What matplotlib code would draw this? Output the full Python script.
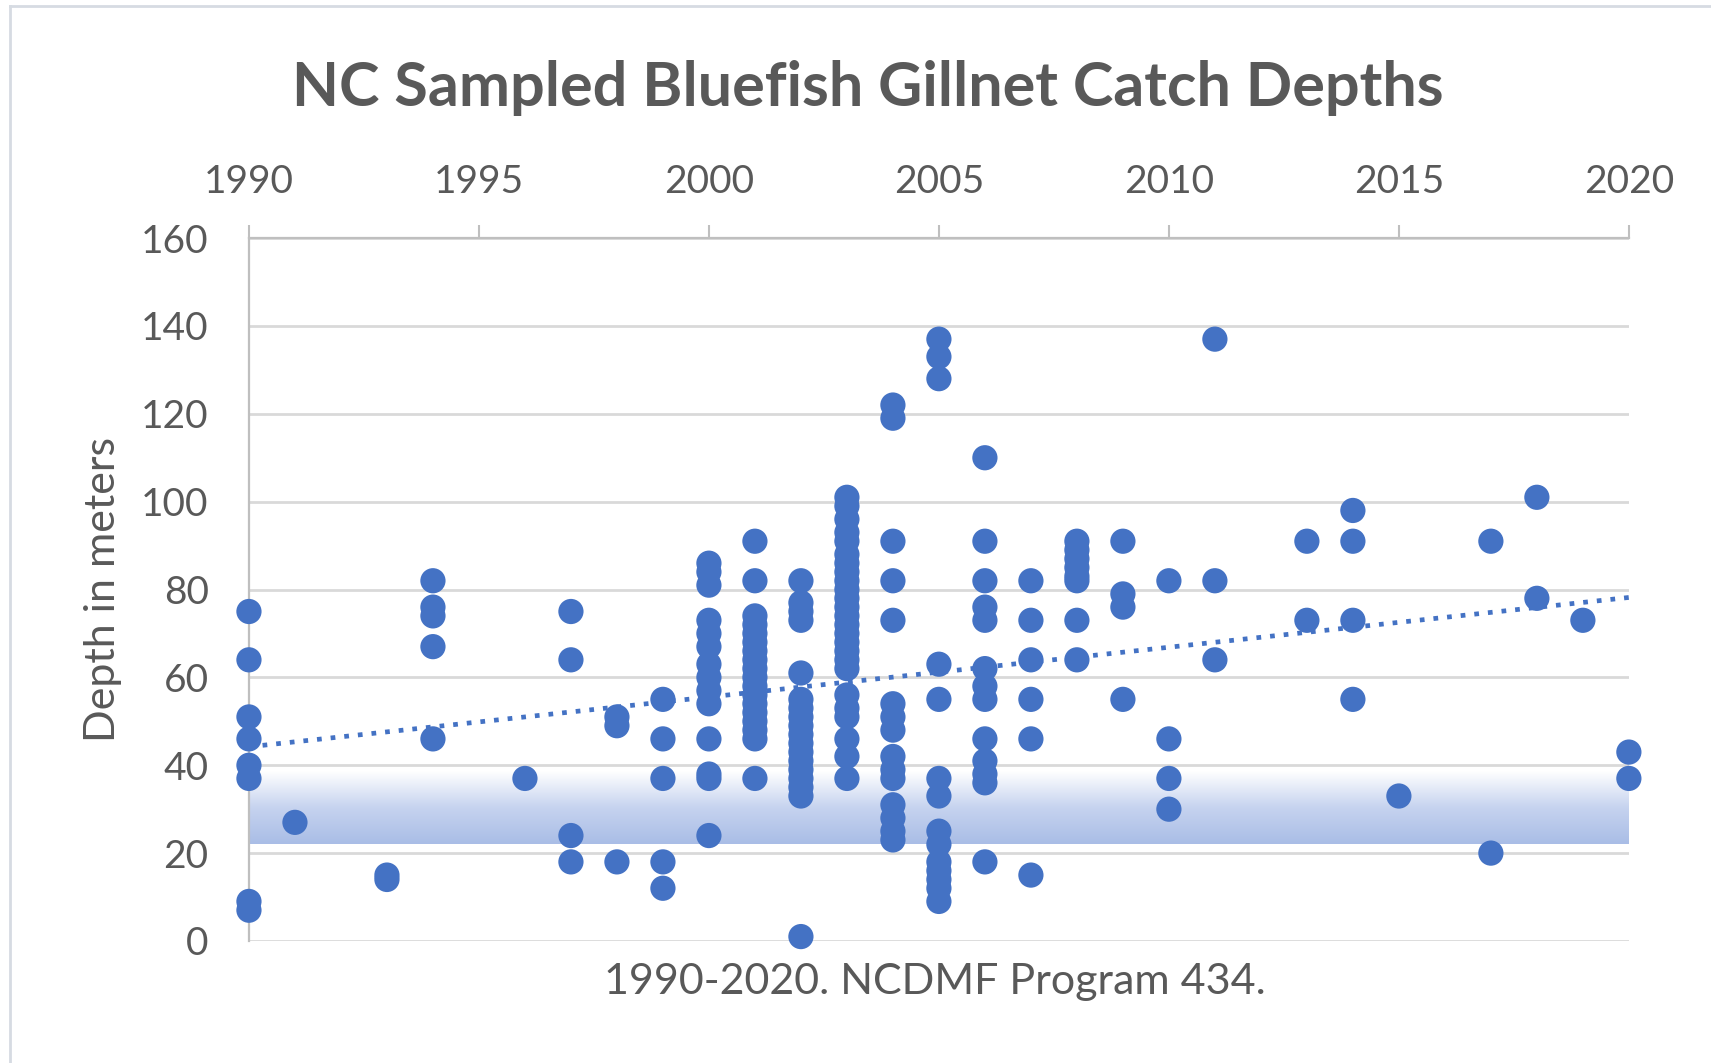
import matplotlib
matplotlib.use("Agg")
import matplotlib.pyplot as plt
import numpy as np
from matplotlib.lines import Line2D

# sampled catches: year and depth (m)
catch_year = (
    [1990] * 8 + [1991] + [1993] * 2 + [1994] * 5 + [1996] + [1997] * 4
    + [1998] * 3 + [1999] * 5 + [2000] * 14 + [2001] * 18 + [2002] * 18
    + [2003] * 25 + [2004] * 15 + [2005] * 14 + [2006] * 13 + [2007] * 6
    + [2008] * 8 + [2009] * 4 + [2010] * 4 + [2011] * 3 + [2013] * 2
    + [2014] * 4 + [2015] + [2017] * 2 + [2018] * 2 + [2019] + [2020] * 2
)
catch_depth = [
    75, 64, 51, 46, 40, 37, 9, 7,                                   # 1990
    27,                                                             # 1991
    15, 14,                                                         # 1993
    82, 76, 74, 67, 46,                                             # 1994
    37,                                                             # 1996
    75, 64, 24, 18,                                                 # 1997
    51, 49, 18,                                                     # 1998
    55, 46, 37, 18, 12,                                             # 1999
    86, 84, 81, 73, 70, 67, 63, 60, 57, 54, 46, 38, 37, 24,         # 2000
    91, 82, 74, 72, 70, 68, 66, 64, 62, 60, 58, 56, 54, 52, 50,
    48, 46, 37,                                                     # 2001
    82, 77, 75, 73, 61, 55, 53, 51, 49, 47, 45, 43, 41, 39, 37,
    35, 33, 1,                                                      # 2002
    101, 99, 96, 93, 91, 88, 86, 84, 82, 80, 78, 76, 74, 72, 70,
    68, 66, 64, 62, 56, 53, 51, 46, 42, 37,                         # 2003
    122, 119, 91, 82, 73, 54, 51, 48, 42, 39, 37, 31, 28, 25, 23,   # 2004
    137, 133, 128, 63, 55, 37, 33, 25, 22, 18, 16, 14, 12, 9,       # 2005
    110, 91, 82, 76, 73, 62, 58, 55, 46, 41, 38, 36, 18,            # 2006
    82, 73, 64, 55, 46, 15,                                         # 2007
    91, 89, 87, 85, 83, 82, 73, 64,                                 # 2008
    91, 79, 76, 55,                                                 # 2009
    82, 46, 37, 30,                                                 # 2010
    137, 82, 64,                                                    # 2011
    91, 73,                                                         # 2013
    98, 91, 73, 55,                                                 # 2014
    33,                                                             # 2015
    91, 20,                                                         # 2017
    101, 78,                                                        # 2018
    73,                                                             # 2019
    43, 37,                                                         # 2020
]
year_ticks = [1990, 1995, 2000, 2005, 2010, 2015, 2020]
depth_ticks = [0, 20, 40, 60, 80, 100, 120, 140, 160]
band_low, band_high = 22, 38.5

blue = "#4472C4"
grey_text = "#595959"

plt.rcParams["font.family"] = ["Lato", "DejaVu Sans"]

fig = plt.figure(figsize=(17.11, 10.63), dpi=100)
ax = fig.add_axes([0.1455, 0.1148, 0.952 - 0.1455, 0.776 - 0.1148])

# shaded band, fading from white at top to light blue at bottom
grad = np.linspace(0, 1, 256).reshape(-1, 1)
band_cmap = matplotlib.colors.LinearSegmentedColormap.from_list(
    "band", ["#a9bde6", "#c6d3ef", "#ffffff"]
)
ax.imshow(
    grad,
    cmap=band_cmap,
    aspect="auto",
    origin="lower",
    extent=[1990, 2020, band_low, band_high],
    zorder=1,
)

ax.scatter(catch_year, catch_depth, s=330, color=blue, edgecolors="none",
           zorder=3, clip_on=False)

# linear trend line
coef = np.polyfit(catch_year, catch_depth, 1)
trend_x = np.array([1990, 2020])
ax.plot(trend_x, np.polyval(coef, trend_x), color=blue, lw=3.4,
        linestyle=(0, (1, 1.9)), zorder=4)

ax.set_xlim(1990, 2020)
ax.set_ylim(0, 160)
ax.set_xticks(year_ticks)
ax.set_yticks(depth_ticks)
ax.xaxis.tick_top()
ax.tick_params(axis="x", which="both", direction="out", length=9.5, width=1.5,
               color="#bfbfbf", pad=18, labelsize=28, labelcolor=grey_text)
ax.tick_params(axis="y", length=0, pad=29, labelsize=28, labelcolor=grey_text)
ax.grid(axis="y", color="#d9d9d9", lw=2)
ax.set_axisbelow(True)
for side in ["right", "bottom"]:
    ax.spines[side].set_visible(False)
for side in ["left", "top"]:
    ax.spines[side].set_color("#bfbfbf")
    ax.spines[side].set_linewidth(1.6)

ax.set_ylabel("Depth in meters", fontsize=31, color=grey_text, labelpad=14)

fig.text(0.507, 0.917, "NC Sampled Bluefish Gillnet Catch Depths", ha="center",
         va="center", fontsize=44, fontweight="bold", color=grey_text)
fig.text(0.5465, 0.0762, "1990-2020. NCDMF Program 434.", ha="center",
         va="center", fontsize=31, color=grey_text)

# faint frame at top and left like the source screenshot
fig.add_artist(Line2D([0.006, 1], [0.994, 0.994], transform=fig.transFigure,
                      color="#d6dbe2", lw=2))
fig.add_artist(Line2D([0.006, 0.006], [0, 0.994], transform=fig.transFigure,
                      color="#d6dbe2", lw=2))

fig.savefig("out.png", dpi=100)
